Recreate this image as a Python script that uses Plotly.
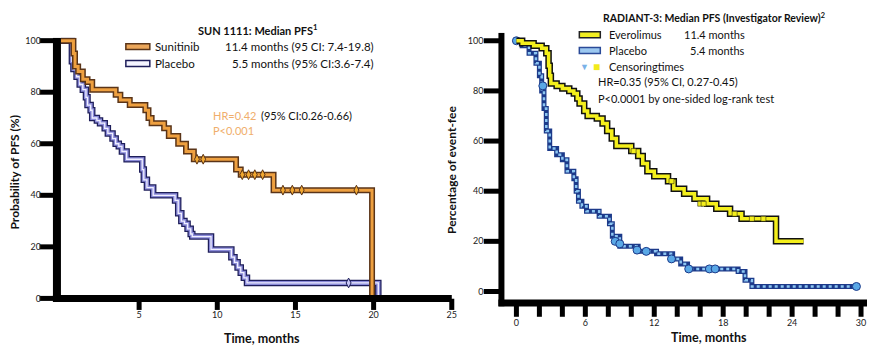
import plotly.graph_objects as go

W, H = 872, 345

# ---------------- Data: SUN 1111 (left) ----------------
sun_t = [0, 0.8, 0.9, 1.1, 1.4, 1.7, 2.0, 3.5, 3.8, 4.4, 5.4, 5.6, 5.8, 6.6, 6.9, 7.5, 8.0, 8.5, 11.2, 11.5, 13.6, 19.9]
sun_p = [100, 95, 90, 88, 85, 84, 81, 79, 77, 75, 73, 70, 68, 66, 63, 60, 57, 54, 50, 48, 42, 0]
sun_cens_t = [8.7, 9.1, 11.6, 12.0, 12.4, 12.9, 14.2, 14.8, 15.4, 18.9]
sun_cens_p = [54, 54, 48, 48, 48, 48, 42, 42, 42, 42]

plc1_t = [0, 0.7, 0.8, 1.0, 1.2, 1.4, 1.6, 1.7, 1.9, 2.0, 2.3, 2.5, 2.8, 3.0, 3.3, 3.5, 3.7, 3.9, 4.2,
          5.2, 5.3, 5.5, 5.9, 7.3, 7.5, 7.7, 7.9, 8.1, 8.3, 8.4, 9.6, 10.9, 11.1, 11.3, 11.5, 11.7, 11.9, 20.3]
plc1_p = [100, 92, 89, 86, 83, 81, 78, 75, 73, 70, 69, 68, 66, 64, 62, 60, 59, 57, 54,
          50, 46, 43, 40, 38, 33, 30, 29, 27, 25, 24, 19, 16, 14, 12, 10, 8, 6, 0]
plc1_cens_t = [18.4]
plc1_cens_p = [6]

left_xticks = [5, 10, 15, 20, 25]
left_yticks = [0, 20, 40, 60, 80, 100]

# ---------------- Data: RADIANT-3 (right) ----------------
evr_t = [0, 0.5, 1.5, 2.2, 2.6, 2.8, 2.9, 3.0, 3.5, 4.0, 4.6, 5.0, 5.3, 5.5, 5.9, 6.2, 7.0, 7.5, 7.9, 8.3, 8.7,
         10.0, 10.6, 11.0, 11.4, 12.0, 13.2, 13.7, 14.6, 15.5, 16.6, 17.4, 18.6, 19.6, 22.6, 25.0]
evr_p = [100, 99, 98, 97, 95, 90, 86, 83, 82, 81, 80, 79, 77, 75, 72, 70, 69, 67, 64, 61, 58,
         56, 54, 51, 48, 46, 44, 41, 39, 37, 35, 33, 31, 29, 20, 20]
evr_cens_t = [10.2, 13.5, 16.0, 16.3, 19.0, 20.5, 21.5]
evr_cens_p = [56, 44, 35, 35, 31, 29, 29]

plc2_t = [0, 0.5, 1.1, 1.7, 2.0, 2.2, 2.4, 2.6, 2.9, 3.5, 4.0, 4.4, 5.0, 5.2, 5.4, 5.7, 6.1, 7.2, 8.1, 8.35,
          9.0, 10.6, 12.2, 13.6, 14.3, 14.9, 19.3, 19.9, 20.5, 29.6]
plc2_p = [100, 98, 95, 91, 86, 80, 73, 64, 57, 54.5, 52.5, 48, 45, 40, 36, 34, 32, 30, 27, 22,
          18, 16, 15, 13, 11, 9, 8, 4.5, 2, 2]
plc2_cens_t = [0.0, 2.3, 8.6, 9.0, 10.5, 11.3, 13.5, 15.0, 16.8, 17.3, 29.6]
plc2_cens_p = [100, 82, 20, 19, 16.5, 16, 13, 9, 9, 9, 2]

right_xticks = [0, 6, 12, 18, 24, 30]
right_xminor = list(range(0, 31, 2))
right_yticks = [0, 20, 40, 60, 80, 100]

# ---------------- Frame geometry (axis units) ----------------
L = dict(xr=[-1.215, 25.3], yr=[-3.654, 101.15],
         ax_x=-0.256, ax_y=0.0,
         ax_x_lo=-0.5115, ax_x_hi=25.0, ax_y_lo=-1.346,
         ytick_c=-0.83, ytick_len=12,
         xtick_c=-2.3, xtick_len=8)
R = dict(xr=[-2.609, 30.52], yr=[-9.09, 103.2],
         ax_x=-1.304, ax_y=-4.545,
         ax_x_lo=-1.565, ax_x_hi=30.52, ax_y_lo=-5.929,
         ytick_c=-2.05, ytick_len=13,
         xtick_c=-7.3, xtick_len=10)


def px(x):
    return x / W


def py(y):
    return 1 - y / H


fig = go.Figure()


def frame(g, xticks, yticks, xa, ya, wy, wx, tw):
    # bold axis lines
    fig.add_trace(go.Scatter(x=[g["ax_x"], g["ax_x"]], y=[g["ax_y_lo"], g["yr"][1]], mode="lines",
                             line=dict(color="black", width=wy), xaxis=xa, yaxis=ya,
                             showlegend=False, hoverinfo="skip"))
    fig.add_trace(go.Scatter(x=[g["ax_x_lo"], g["ax_x_hi"]], y=[g["ax_y"], g["ax_y"]], mode="lines",
                             line=dict(color="black", width=wx), xaxis=xa, yaxis=ya,
                             showlegend=False, hoverinfo="skip"))
    # tick marks as line-shaped markers at the tick values
    fig.add_trace(go.Scatter(x=[g["ytick_c"]] * len(yticks), y=yticks, mode="markers",
                             marker=dict(symbol="line-ew", size=g["ytick_len"],
                                         line=dict(color="black", width=tw)),
                             cliponaxis=False, xaxis=xa, yaxis=ya, showlegend=False, hoverinfo="skip"))
    fig.add_trace(go.Scatter(x=xticks, y=[g["xtick_c"]] * len(xticks), mode="markers",
                             marker=dict(symbol="line-ns", size=g["xtick_len"],
                                         line=dict(color="black", width=tw)),
                             cliponaxis=False, xaxis=xa, yaxis=ya, showlegend=False, hoverinfo="skip"))


# ---- Left chart traces ----
fig.add_trace(go.Scatter(x=plc1_t, y=plc1_p, mode="lines", line=dict(color="#1e1e5a", width=6.5, shape="hv"),
                         xaxis="x", yaxis="y", showlegend=False, hoverinfo="skip"))
fig.add_trace(go.Scatter(x=plc1_t, y=plc1_p, mode="lines", line=dict(color="#8a8ad8", width=4, shape="hv"),
                         xaxis="x", yaxis="y", showlegend=False, hoverinfo="skip"))
fig.add_trace(go.Scatter(x=plc1_t, y=plc1_p, mode="lines", line=dict(color="#f0f0ff", width=1.3, shape="hv"),
                         xaxis="x", yaxis="y", showlegend=False, name="Placebo"))
fig.add_trace(go.Scatter(x=plc1_cens_t, y=plc1_cens_p, mode="markers",
                         marker=dict(symbol="diamond-tall", size=7, color="#c8c8f8", line=dict(color="#1e1e5a", width=1)),
                         xaxis="x", yaxis="y", showlegend=False))
fig.add_trace(go.Scatter(x=sun_t, y=sun_p, mode="lines", line=dict(color="#5a3418", width=6, shape="hv"),
                         xaxis="x", yaxis="y", showlegend=False, hoverinfo="skip"))
fig.add_trace(go.Scatter(x=sun_t, y=sun_p, mode="lines", line=dict(color="#eea040", width=3, shape="hv"),
                         xaxis="x", yaxis="y", showlegend=False, name="Sunitinib"))
fig.add_trace(go.Scatter(x=sun_cens_t, y=sun_cens_p, mode="markers",
                         marker=dict(symbol="diamond-tall", size=7, color="#f2a830", line=dict(color="#5a3418", width=1)),
                         xaxis="x", yaxis="y", showlegend=False))
frame(L, left_xticks, left_yticks, "x", "y", 8, 7, 5)

# ---- Right chart traces ----
fig.add_trace(go.Scatter(x=plc2_t, y=plc2_p, mode="lines", line=dict(color="#1c3a8a", width=5, shape="hv"),
                         xaxis="x2", yaxis="y2", showlegend=False, hoverinfo="skip"))
fig.add_trace(go.Scatter(x=plc2_t, y=plc2_p, mode="lines", line=dict(color="#8cc6f2", width=2.5, shape="hv", dash="dot"),
                         xaxis="x2", yaxis="y2", showlegend=False, name="Placebo"))
fig.add_trace(go.Scatter(x=plc2_cens_t, y=plc2_cens_p, mode="markers",
                         marker=dict(symbol="circle", size=8, color="#5aa8e6", line=dict(color="#1c3a8a", width=1)),
                         xaxis="x2", yaxis="y2", showlegend=False))
fig.add_trace(go.Scatter(x=evr_t, y=evr_p, mode="lines", line=dict(color="#111111", width=6.5, shape="hv"),
                         xaxis="x2", yaxis="y2", showlegend=False, hoverinfo="skip"))
fig.add_trace(go.Scatter(x=evr_t, y=evr_p, mode="lines", line=dict(color="#f4ef1c", width=3.5, shape="hv"),
                         xaxis="x2", yaxis="y2", showlegend=False, name="Everolimus"))
fig.add_trace(go.Scatter(x=evr_cens_t, y=evr_cens_p, mode="markers",
                         marker=dict(symbol="square", size=5, color="#f4ef1c", line=dict(color="#111111", width=0.5)),
                         xaxis="x2", yaxis="y2", showlegend=False))
frame(R, right_xminor, right_yticks, "x2", "y2", 6, 7, 5)

tickfont = dict(family="Lato", size=9, color="#222222")

fig.update_layout(
    width=W, height=H,
    margin=dict(l=0, r=0, t=0, b=0),
    paper_bgcolor="white", plot_bgcolor="white",
    font=dict(family="Lato", color="#111111"),
    xaxis=dict(domain=[px(42), px(457)], range=L["xr"], anchor="y", showline=False,
               tickvals=left_xticks, ticks="", tickfont=tickfont, showgrid=False, zeroline=False,
               ticklabelstandoff=0),
    yaxis=dict(domain=[py(307.5), py(35)], range=L["yr"], anchor="x", showline=False,
               tickvals=left_yticks, ticks="", tickfont=tickfont, showgrid=False, zeroline=False,
               ticklabelstandoff=0),
    xaxis2=dict(domain=[px(487), px(868)], range=R["xr"], anchor="y2", showline=False,
                tickvals=right_xticks, ticks="", tickfont=tickfont, showgrid=False, zeroline=False,
                ticklabelstandoff=2),
    yaxis2=dict(domain=[py(314), py(30)], range=R["yr"], anchor="x2", showline=False,
                tickvals=right_yticks, ticks="", tickfont=tickfont, showgrid=False, zeroline=False,
                ticklabelstandoff=2),
)

anns = []


def txt(x, y, s, size=11, color="#111111", bold=False, anchor="left", angle=0):
    anns.append(dict(x=px(x), y=py(y), xref="paper", yref="paper", text=("<b>%s</b>" % s) if bold else s,
                     showarrow=False, xanchor=anchor, yanchor="middle", textangle=angle,
                     font=dict(family="Lato", size=size, color=color)))


# Left chart texts
txt(258, 27, "SUN 1111: Median PFS<sup>1</sup>", size=11, bold=True, anchor="center")
txt(153, 44, "Sunitinib", size=11.5)
txt(153, 61, "Placebo", size=11.5)
txt(376, 44, "11.4 months (95 CI: 7.4-19.8)", size=11.5, anchor="right")
txt(376, 61, "5.5 months (95% CI:3.6-7.4)", size=11.5, anchor="right")
txt(211, 113, "HR=0.42", size=11, color="#f0ae6c")
txt(259, 113, "(95% CI:0.26-0.66)", size=11)
txt(211, 129, "P<0.001", size=11, color="#f0ae6c")
txt(15, 170, "Probability of PFS (%)", size=12, bold=True, anchor="center", angle=-90)
txt(262, 338, "Time, months", size=12.5, bold=True, anchor="center")

# Right chart texts
txt(715, 15, "RADIANT-3: Median PFS (Investigator Review)<sup>2</sup>", size=10.5, bold=True, anchor="center")
txt(608, 32, "Everolimus", size=11)
txt(608, 48, "Placebo", size=11)
txt(748, 32, "11.4 months", size=11, anchor="right")
txt(748, 48, "5.4 months", size=11, anchor="right")
txt(585, 64, "▼", size=9, color="#7ab2e8", anchor="center")
txt(597, 64, "■", size=12, color="#f2ea1a", anchor="center")
txt(608, 64, "Censoringtimes", size=11)
txt(597, 79, "HR=0.35 (95% CI, 0.27-0.45)", size=11)
txt(597, 96, "P<0.0001 by one-sided log-rank test", size=11)
txt(452, 168, "Percentage of event-fee", size=12, bold=True, anchor="center", angle=-90)
txt(710, 337, "Time, months", size=12.5, bold=True, anchor="center")

fig.update_layout(annotations=anns)

# legend swatches
shapes = [
    dict(type="rect", xref="paper", yref="paper", x0=px(126), x1=px(150), y0=py(47), y1=py(41),
         fillcolor="#eba65a", line=dict(color="#5a3418", width=1.5)),
    dict(type="rect", xref="paper", yref="paper", x0=px(126), x1=px(150), y0=py(64), y1=py(58),
         fillcolor="#f4f4ff", line=dict(color="#1e1e5a", width=1.5)),
    dict(type="rect", xref="paper", yref="paper", x0=px(580), x1=px(601), y0=py(35), y1=py(29),
         fillcolor="#f2ee20", line=dict(color="#222222", width=1.5)),
    dict(type="rect", xref="paper", yref="paper", x0=px(580), x1=px(601), y0=py(51), y1=py(45),
         fillcolor="#9cc8f0", line=dict(color="#2a4a98", width=1.5)),
]
fig.update_layout(shapes=shapes)

fig.write_html("out.html", config={"displayModeBar": False},
               post_script="document.body.style.margin='0';")
